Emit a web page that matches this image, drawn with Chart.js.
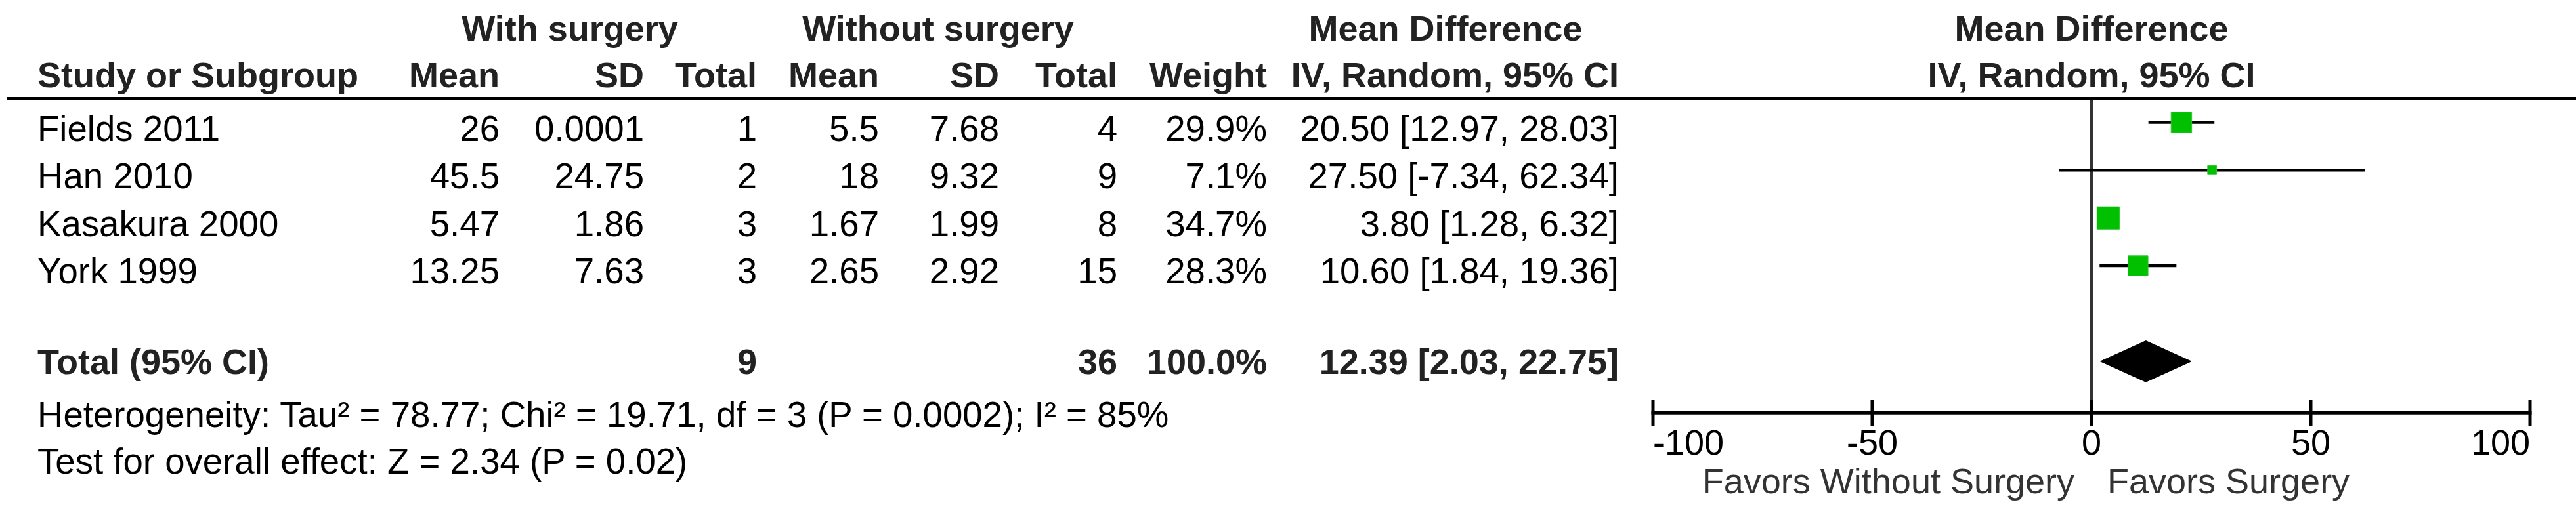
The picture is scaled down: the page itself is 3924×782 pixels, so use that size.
<!DOCTYPE html>
<html>
<head>
<meta charset="utf-8">
<script src="https://cdn.jsdelivr.net/npm/chart.js@4.4.1/dist/chart.umd.min.js"></script>
<style>
  html, body { margin: 0; padding: 0; background: #fff; }
  #page { position: relative; width: 3924px; height: 782px; overflow: hidden;
          font-family: "Liberation Sans", Arial, sans-serif; font-size: 54.6px; color: #000; }
  #page canvas { position: absolute; left: 0; top: 0; }
  .t { position: absolute; white-space: nowrap; line-height: 54px; }
  .b { font-weight: bold; color: #222; font-size: 54px; }
  .r { transform: translateX(-100%); }
  .c { transform: translateX(-50%); }
  .rule { position: absolute; left: 11px; right: 0; top: 148px; height: 5px; background: #000; }
</style>
</head>
<body>
<div id="page">
  <canvas id="forest" width="3924" height="782"></canvas>
  <div class="rule"></div>
</div>
<script>
// Studies
const studies = ['Fields 2011', 'Han 2010', 'Kasakura 2000', 'York 1999'];
const surgMean = [26, 45.5, 5.47, 13.25];
const surgSD = [0.0001, 24.75, 1.86, 7.63];
const surgN = [1, 2, 3, 3];
const ctrlMean = [5.5, 18, 1.67, 2.65];
const ctrlSD = [7.68, 9.32, 1.99, 2.92];
const ctrlN = [4, 9, 8, 15];
const weights = [29.9, 7.1, 34.7, 28.3];
const md = [20.50, 27.50, 3.80, 10.60];
const ciLow = [12.97, -7.34, 1.28, 1.84];
const ciHigh = [28.03, 62.34, 6.32, 19.36];

// Pooled result
const totalLabel = 'Total (95% CI)';
const totalSurgN = 9;
const totalCtrlN = 36;
const totalWeight = 100.0;
const totalMD = 12.39;
const totalLow = 2.03;
const totalHigh = 22.75;
const heterogeneity = 'Heterogeneity: Tau² = 78.77; Chi² = 19.71, df = 3 (P = 0.0002); I² = 85%';
const overallEffect = 'Test for overall effect: Z = 2.34 (P = 0.02)';

// Axis
const xTicks = [-100, -50, 0, 50, 100];
const favorsLeft = 'Favors Without Surgery';
const favorsRight = 'Favors Surgery';

const FONT = '"Liberation Sans", Arial, sans-serif';
const page = document.getElementById('page');

function put(text, x, base, align, cls) {
    const d = document.createElement('div');
    d.className = 't ' + (align || '') + ' ' + (cls || '');
    d.textContent = text;
    d.style.left = x + 'px';
    d.style.top = (base - 46) + 'px';
    page.appendChild(d);
}

function ci(m, lo, hi) {
    return m.toFixed(2) + ' [' + lo.toFixed(2) + ', ' + hi.toFixed(2) + ']';
}

// table headers
put('With surgery', 868, 62, 'c', 'b');
put('Without surgery', 1429, 62, 'c', 'b');
put('Mean Difference', 2202, 62, 'c', 'b');
put('Mean Difference', 3186, 62, 'c', 'b');
put('Study or Subgroup', 57, 133, '', 'b');
put('Mean', 761, 133, 'r', 'b');
put('SD', 981, 133, 'r', 'b');
put('Total', 1153, 133, 'r', 'b');
put('Mean', 1339, 133, 'r', 'b');
put('SD', 1522, 133, 'r', 'b');
put('Total', 1702, 133, 'r', 'b');
put('Weight', 1930, 133, 'r', 'b');
put('IV, Random, 95% CI', 2466, 133, 'r', 'b');
put('IV, Random, 95% CI', 3186, 133, 'c', 'b');

// study rows
studies.forEach((s, i) => {
    const base = 216 + 72.3 * i;
    put(s, 57, base);
    put(String(surgMean[i]), 761, base, 'r');
    put(String(surgSD[i]), 981, base, 'r');
    put(String(surgN[i]), 1153, base, 'r');
    put(String(ctrlMean[i]), 1339, base, 'r');
    put(String(ctrlSD[i]), 1522, base, 'r');
    put(String(ctrlN[i]), 1702, base, 'r');
    put(weights[i].toFixed(1) + '%', 1930, base, 'r');
    put(ci(md[i], ciLow[i], ciHigh[i]), 2466, base, 'r');
});

// total + footnotes
put(totalLabel, 57, 570, '', 'b');
put(String(totalSurgN), 1153, 570, 'r', 'b');
put(String(totalCtrlN), 1702, 570, 'r', 'b');
put(totalWeight.toFixed(1) + '%', 1930, 570, 'r', 'b');
put(ci(totalMD, totalLow, totalHigh), 2466, 570, 'r', 'b');
put(heterogeneity, 57, 652);
put(overallEffect, 57, 723);

// forest plot
const totalY = studies.length + 1;

const datasets = [{
    label: 'Studies',
    data: studies.map((s, i) => ({ x: md[i], y: i })),
    pointStyle: 'rect',
    pointRadius: weights.map(w => (6.3 * Math.sqrt(w) - 3) / Math.SQRT2),
    backgroundColor: '#00c000',
    borderColor: '#2ec82e',
    borderWidth: 1,
    showLine: false
}];

studies.forEach((s, i) => {
    datasets.push({
        label: s + ' CI',
        data: [{ x: ciLow[i], y: i }, { x: ciHigh[i], y: i }],
        showLine: true,
        borderColor: '#000',
        borderWidth: 4.5,
        pointRadius: 0
    });
});

datasets.push({
    label: 'Total',
    data: [
        { x: totalLow, y: totalY },
        { x: totalMD, y: totalY - 0.43 },
        { x: totalHigh, y: totalY },
        { x: totalMD, y: totalY + 0.43 },
        { x: totalLow, y: totalY }
    ],
    showLine: true,
    fill: 'shape',
    backgroundColor: '#000',
    borderColor: '#000',
    borderWidth: 1,
    pointRadius: 0,
    tension: 0
});

// axis line crossing the ticks + favours captions
const axisExtras = {
    id: 'axisExtras',
    afterDraw(chart) {
        const { ctx, chartArea, scales } = chart;
        const x = scales.x;
        const yAxis = chartArea.bottom + 20;
        ctx.save();
        ctx.strokeStyle = '#000';
        ctx.lineWidth = 5;
        ctx.beginPath();
        ctx.moveTo(x.getPixelForValue(xTicks[0]) - 2.5, yAxis);
        ctx.lineTo(x.getPixelForValue(xTicks[xTicks.length - 1]) + 2.5, yAxis);
        ctx.stroke();
        const zero = x.getPixelForValue(0);
        ctx.font = '54px ' + FONT;
        ctx.fillStyle = '#333';
        ctx.textBaseline = 'alphabetic';
        ctx.textAlign = 'right';
        ctx.fillText(favorsLeft, zero - 26, 752);
        ctx.textAlign = 'left';
        ctx.fillText(favorsRight, zero + 24, 752);
        ctx.restore();
    }
};

new Chart(document.getElementById('forest').getContext('2d'), {
    type: 'scatter',
    data: { datasets: datasets },
    options: {
        responsive: false,
        devicePixelRatio: 1,
        animation: false,
        events: [],
        layout: { padding: { left: 2518, right: 70, top: 150, bottom: 74 } },
        plugins: { legend: { display: false }, tooltip: { enabled: false } },
        scales: {
            x: {
                type: 'linear',
                min: -100,
                max: 100,
                afterBuildTicks: scale => { scale.ticks = xTicks.map(v => ({ value: v })); },
                ticks: {
                    align: 'inner',
                    autoSkip: false,
                    maxRotation: 0,
                    padding: -3,
                    color: '#000',
                    font: { family: FONT, size: 54 }
                },
                grid: {
                    drawOnChartArea: true,
                    color: ctx => (ctx.tick && ctx.tick.value === 0) ? '#333' : 'rgba(0,0,0,0)',
                    lineWidth: 4,
                    tickColor: '#000',
                    tickWidth: 5,
                    tickLength: 40
                },
                border: { display: false }
            },
            y: {
                type: 'linear',
                reverse: true,
                min: -0.5,
                max: 5.8,
                display: false
            }
        }
    },
    plugins: [axisExtras]
});
</script>
</body>
</html>
